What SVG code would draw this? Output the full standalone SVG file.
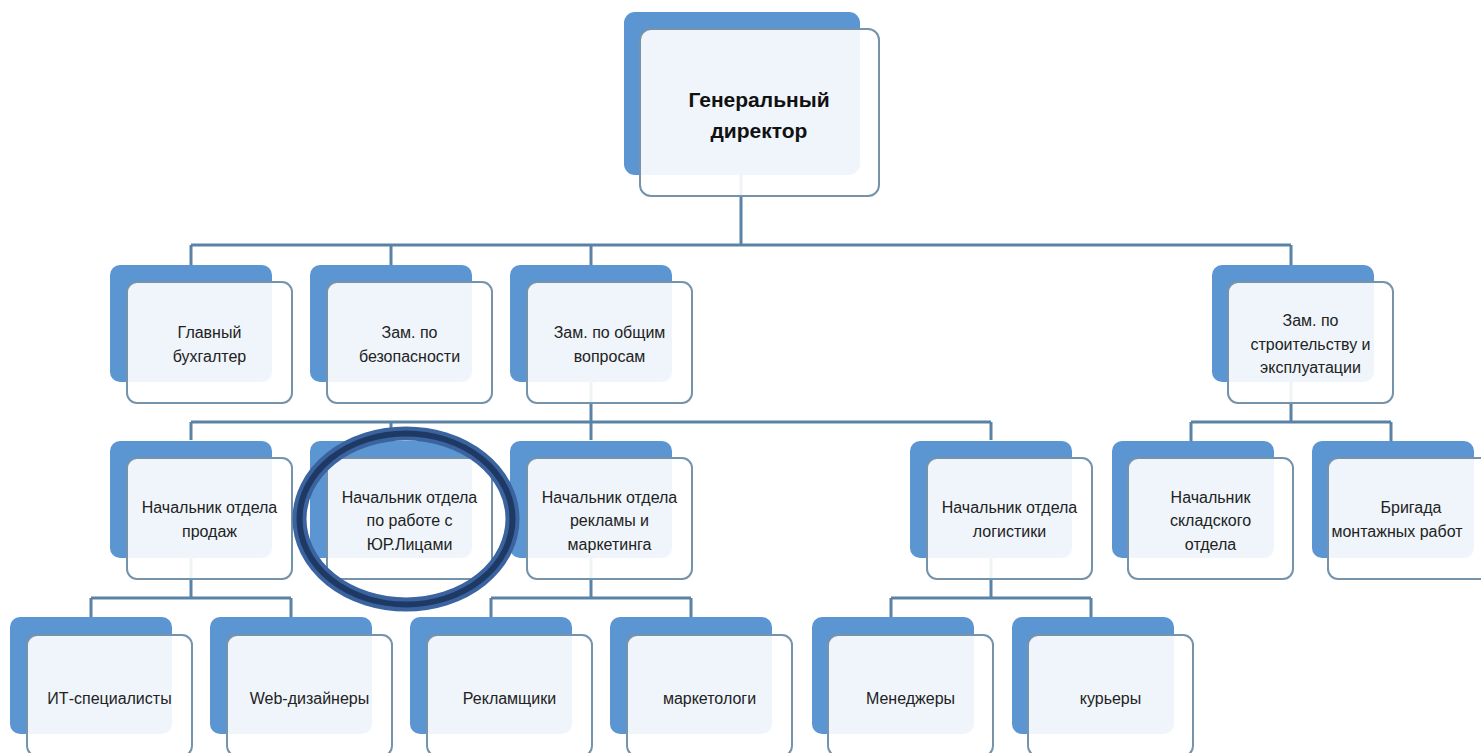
<svg xmlns="http://www.w3.org/2000/svg" width="1481" height="753" viewBox="0 0 1481 753">
<style>
.back{fill:#5b96d3}
.front{fill:#ffffff;fill-opacity:0.9;stroke:#7593ab;stroke-width:2}
.t{font-family:"Liberation Sans",Arial,sans-serif;font-size:16px;fill:#222;text-anchor:middle}
.tb{font-family:"Liberation Sans",Arial,sans-serif;font-size:21px;font-weight:bold;fill:#111;text-anchor:middle}
.c{fill:none;stroke:#5a82a6;stroke-width:3}
</style>
<rect width="1481" height="753" fill="#ffffff"/>
<g id="connectors">
<path class="c" d="M741 175V245M191 245H1291M191 245V265M391 245V265M591 245V265M1291 245V265"/>
<path class="c" d="M591 382V440M191 422H991M191 422V440M391 422V440M991 422V440"/>
<path class="c" d="M1291 380V422M1191 422H1391M1191 422V442M1391 422V442"/>
<path class="c" d="M191 557V598M91 598H291M91 598V617M291 598V617"/>
<path class="c" d="M591 557V598M491 598H691M491 598V617M691 598V617"/>
<path class="c" d="M991 557V598M891 598H1091M891 598V617M1091 598V617"/>
</g>
<g id="n-gendir">
<rect class="back" x="624" y="12" width="236" height="163" rx="11"/>
<rect class="front" x="640" y="29" width="239" height="167" rx="11"/>
<text class="tb" x="759" y="107">Генеральный</text>
<text class="tb" x="759" y="138">директор</text>
</g>
<g id="n-buh">
<rect class="back" x="110" y="265" width="162" height="117" rx="10"/>
<rect class="front" x="127" y="282" width="165" height="121" rx="10"/>
<text class="t" x="209.5" y="338">Главный</text>
<text class="t" x="209.5" y="362">бухгалтер</text>
</g>
<g id="n-bez">
<rect class="back" x="310" y="265" width="162" height="117" rx="10"/>
<rect class="front" x="327" y="282" width="165" height="121" rx="10"/>
<text class="t" x="409.5" y="338">Зам. по</text>
<text class="t" x="409.5" y="362">безопасности</text>
</g>
<g id="n-obsh">
<rect class="back" x="510" y="265" width="162" height="117" rx="10"/>
<rect class="front" x="527" y="282" width="165" height="121" rx="10"/>
<text class="t" x="609.5" y="338">Зам. по общим</text>
<text class="t" x="609.5" y="362">вопросам</text>
</g>
<g id="n-stroi">
<rect class="back" x="1212" y="265" width="162" height="117" rx="10"/>
<rect class="front" x="1228" y="282" width="165" height="121" rx="10"/>
<text class="t" x="1310.5" y="326">Зам. по</text>
<text class="t" x="1310.5" y="350">строительству и</text>
<text class="t" x="1310.5" y="373">эксплуатации</text>
</g>
<g id="n-prod">
<rect class="back" x="110" y="441" width="162" height="117" rx="10"/>
<rect class="front" x="127" y="458" width="165" height="121" rx="10"/>
<text class="t" x="209.5" y="513">Начальник отдела</text>
<text class="t" x="209.5" y="537">продаж</text>
</g>
<g id="n-yur">
<rect class="back" x="310" y="441" width="162" height="117" rx="10"/>
<rect class="front" x="327" y="458" width="165" height="121" rx="10"/>
<text class="t" x="409.5" y="503">Начальник отдела</text>
<text class="t" x="409.5" y="526">по работе с</text>
<text class="t" x="409.5" y="550">ЮР.Лицами</text>
</g>
<g id="n-rekl">
<rect class="back" x="510" y="441" width="162" height="117" rx="10"/>
<rect class="front" x="527" y="458" width="165" height="121" rx="10"/>
<text class="t" x="609.5" y="503">Начальник отдела</text>
<text class="t" x="609.5" y="526">рекламы и</text>
<text class="t" x="609.5" y="550">маркетинга</text>
</g>
<g id="n-log">
<rect class="back" x="910" y="441" width="162" height="117" rx="10"/>
<rect class="front" x="927" y="458" width="165" height="121" rx="10"/>
<text class="t" x="1009.5" y="513">Начальник отдела</text>
<text class="t" x="1009.5" y="537">логистики</text>
</g>
<g id="n-sklad">
<rect class="back" x="1112" y="441" width="162" height="117" rx="10"/>
<rect class="front" x="1128" y="458" width="165" height="121" rx="10"/>
<text class="t" x="1210.5" y="503">Начальник</text>
<text class="t" x="1210.5" y="526">складского</text>
<text class="t" x="1210.5" y="550">отдела</text>
</g>
<g id="n-brig">
<rect class="back" x="1312" y="441" width="162" height="117" rx="10"/>
<rect class="front" x="1328" y="458" width="165" height="121" rx="10"/>
<text class="t" x="1411" y="513">Бригада</text>
<text class="t" x="1397" y="537">монтажных работ</text>
</g>
<g id="n-it">
<rect class="back" x="10" y="617" width="162" height="117" rx="10"/>
<rect class="front" x="27" y="635" width="165" height="121" rx="10"/>
<text class="t" x="109.5" y="704">ИТ-специалисты</text>
</g>
<g id="n-web">
<rect class="back" x="210" y="617" width="162" height="117" rx="10"/>
<rect class="front" x="227" y="635" width="165" height="121" rx="10"/>
<text class="t" x="309.5" y="704">Web-дизайнеры</text>
</g>
<g id="n-reklamshiki">
<rect class="back" x="410" y="617" width="162" height="117" rx="10"/>
<rect class="front" x="427" y="635" width="165" height="121" rx="10"/>
<text class="t" x="509.5" y="704">Рекламщики</text>
</g>
<g id="n-marketologi">
<rect class="back" x="610" y="617" width="162" height="117" rx="10"/>
<rect class="front" x="627" y="635" width="165" height="121" rx="10"/>
<text class="t" x="709.5" y="704">маркетологи</text>
</g>
<g id="n-menedzhery">
<rect class="back" x="812" y="617" width="162" height="117" rx="10"/>
<rect class="front" x="828" y="635" width="165" height="121" rx="10"/>
<text class="t" x="910.5" y="704">Менеджеры</text>
</g>
<g id="n-kurery">
<rect class="back" x="1012" y="617" width="162" height="117" rx="10"/>
<rect class="front" x="1028" y="635" width="165" height="121" rx="10"/>
<text class="t" x="1110.5" y="704">курьеры</text>
</g>
<g id="highlight">
<ellipse cx="406" cy="519" rx="106.5" ry="85.5" fill="none" stroke="#3a63a0" stroke-width="14"/>
<ellipse cx="406" cy="519" rx="106.5" ry="85.5" fill="none" stroke="#1f3965" stroke-width="6"/>
</g>
</svg>
